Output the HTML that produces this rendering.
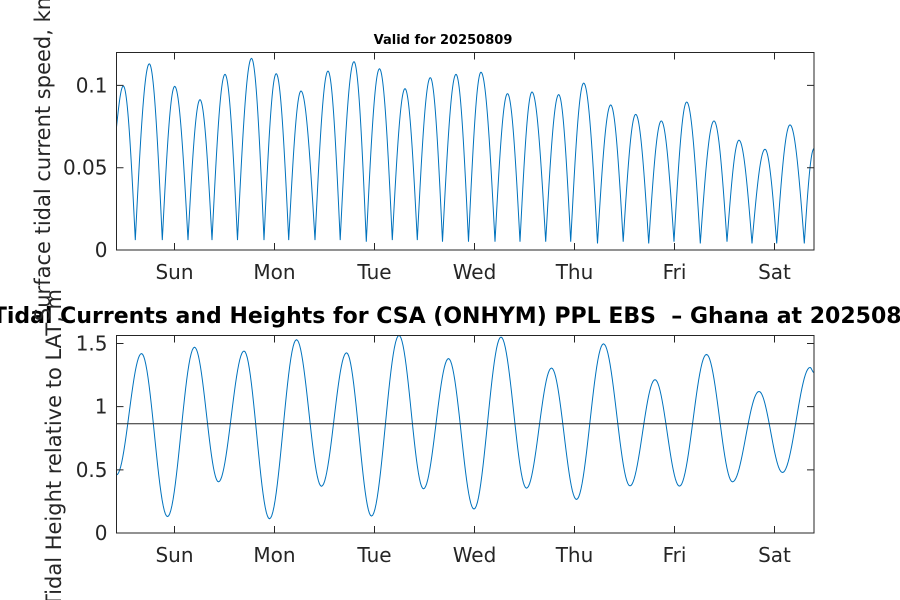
<!DOCTYPE html>
<html><head><meta charset="utf-8"><style>
html,body{margin:0;padding:0;background:#fff;}
svg{display:block;font-family:"DejaVu Sans","Liberation Sans",sans-serif;}
</style></head><body>
<svg id="chart" width="900" height="600" viewBox="0 0 900 600">
<rect width="900" height="600" fill="#fff"/>
<g id="top"></g>
<g id="bot"></g>
<text x="443" y="44" font-size="13" font-weight="bold" text-anchor="middle" fill="#000">Valid for 20250809</text>
<text x="462" y="323" font-size="22" font-weight="bold" text-anchor="middle" fill="#000" style="white-space:pre" xml:space="preserve">Tidal Currents and Heights for CSA (ONHYM) PPL EBS  – Ghana at 20250809</text>
<text transform="translate(50,143) rotate(-90)" font-size="21" text-anchor="middle" fill="#262626">Surface tidal current speed, knots</text>
<text transform="translate(61,448) rotate(-90)" font-size="21" text-anchor="middle" fill="#262626">Tidal Height relative to LAT, m</text>
</svg>
<script>
// time in days relative to Sunday 00:00
const dayLabels = ["Sun","Mon","Tue","Wed","Thu","Fri","Sat"];
const xDomain = [-0.58, 6.395];
// current speed extrema (knots)
const speedTimes = [-0.58,-0.512,-0.392,-0.252,-0.122,0.002,0.135,0.255,0.375,0.505,0.63,0.77,0.895,1.017,1.142,1.265,1.405,1.535,1.657,1.795,1.918,2.05,2.178,2.305,2.428,2.558,2.68,2.815,2.94,3.065,3.205,3.33,3.455,3.575,3.712,3.842,3.962,4.092,4.23,4.362,4.487,4.612,4.742,4.868,4.995,5.122,5.258,5.395,5.525,5.645,5.775,5.905,6.022,6.155,6.298,6.395];
const speedValues = [0.0747,0.0996,0.006,0.1131,0.006,0.0994,0.006,0.0913,0.006,0.1067,0.006,0.1164,0.006,0.1071,0.006,0.0966,0.006,0.1087,0.006,0.1144,0.005,0.1101,0.006,0.098,0.006,0.1047,0.005,0.1067,0.005,0.108,0.005,0.095,0.005,0.096,0.005,0.0944,0.005,0.1014,0.004,0.0881,0.005,0.0824,0.004,0.0784,0.005,0.0899,0.004,0.0784,0.005,0.0667,0.004,0.0612,0.004,0.076,0.004,0.0616];
// tidal height extrema (m)
const tideTimes = [-0.58,-0.33,-0.07,0.20,0.44,0.695,0.95,1.22,1.47,1.72,1.97,2.245,2.49,2.74,2.995,3.265,3.52,3.77,4.02,4.29,4.555,4.805,5.05,5.32,5.58,5.845,6.08,6.355,6.395];
const tideValues = [0.46,1.42,0.13,1.47,0.405,1.44,0.113,1.53,0.37,1.426,0.134,1.563,0.35,1.38,0.19,1.55,0.355,1.305,0.266,1.497,0.373,1.213,0.371,1.413,0.405,1.12,0.479,1.31,1.27];
const meanLevel = 0.865;
const speedTicks = [0,0.05,0.1], speedTickLabels = ["0","0.05","0.1"];
const tideTicks = [0,0.5,1,1.5], tideTickLabels = ["0","0.5","1","1.5"];

const NS="http://www.w3.org/2000/svg";
const L=116.5,R=814;
const xS=t=>L+(t-xDomain[0])/(xDomain[1]-xDomain[0])*(R-L);
function mk(tag,attrs,parent){const e=document.createElementNS(NS,tag);for(const k in attrs)e.setAttribute(k,attrs[k]);parent.appendChild(e);return e;}

function panel(g,top,bot,ymax,ticks,tlabels,times,vals,mode,name){
  const yS=v=>bot-v/ymax*(bot-top);
  let d="";
  for(let i=0;i<times.length-1;i++){
    const t0=times[i],t1=times[i+1],v0=vals[i],v1=vals[i+1];
    for(let k=(i===0?0:1);k<=24;k++){
      const f=k/24;let v;
      if(mode==="tide"){v=v0+(v1-v0)*(1-Math.cos(Math.PI*f))/2;}
      else{ if(v1>v0) v=v0+(v1-v0)*Math.sin(Math.PI/2*f); else v=v1+(v0-v1)*Math.sin(Math.PI/2*(1-f)); }
      const t=t0+(t1-t0)*f;
      d+=(d?"L":"M")+xS(t).toFixed(2)+","+yS(v).toFixed(2);
    }
  }
  const c=mk("path",{d:d,fill:"none",stroke:"#0072BD","stroke-width":1},g);
  
  
  ticks.forEach((v,i)=>{
    const y=yS(v);
    const tk=mk("path",{d:`M${L},${y}h7M${R},${y}h-7`,stroke:"#262626","stroke-width":1},g);
    
    
    const tx=mk("text",{x:L-9,y:y+7,"font-size":20,"text-anchor":"end",fill:"#262626"},g);
    tx.textContent=tlabels[i];
    
    
  });
  dayLabels.forEach((lab,i)=>{
    const x=xS(i);
    const tk=mk("path",{d:`M${x},${bot}v-7M${x},${top}v7`,stroke:"#262626","stroke-width":1},g);
    
    
    const tx=mk("text",{x:x,y:bot+29,"font-size":20,"text-anchor":"middle",fill:"#262626"},g);
    tx.textContent=lab;
    
    
  });
  const box=mk("rect",{x:L,y:top,width:R-L,height:bot-top,fill:"none",stroke:"#262626","stroke-width":1},g);
  
  
  return yS;
}
panel(document.getElementById("top"),52.5,250,0.12,speedTicks,speedTickLabels,speedTimes,speedValues,"speed","speed");
const yT=panel(document.getElementById("bot"),335.5,533,1.563,tideTicks,tideTickLabels,tideTimes,tideValues,"tide","tide");
const ml=mk("line",{x1:L,x2:R,y1:yT(meanLevel),y2:yT(meanLevel),stroke:"#262626","stroke-width":1},document.getElementById("bot"));


</script>
</body></html>
